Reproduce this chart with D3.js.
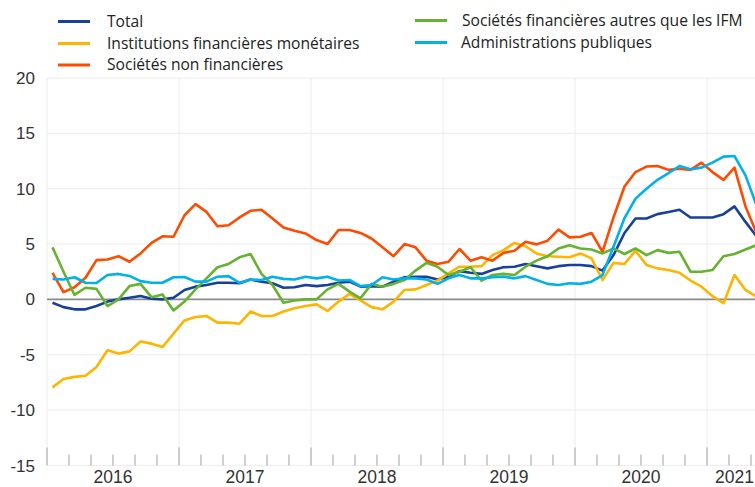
<!DOCTYPE html>
<html lang="fr">
<head>
    <meta charset="utf-8">
    <title>Prêts par secteur</title>
    <script src="https://d3js.org/d3.v7.min.js"></script>
    <style>
        body {
            margin: 0;
            background: #fff;
        }

        .grid line {
            stroke: #ececec;
            stroke-width: 1;
        }

        .tick-label {
            font-family: "Liberation Sans", Arial, sans-serif;
            fill: #333;
        }

        .legend text {
            font-family: "Open Sans", "Noto Sans", sans-serif;
            font-size: 15.6px;
            fill: #222;
        }

        .series {
            fill: none;
            stroke-width: 2.6;
            stroke-linejoin: round;
        }
    </style>
</head>
<body>
    <svg id="chart" width="755" height="487"></svg>

    <script>
        // monthly values, Jan 2016 .. May 2021
        const total = [
            -0.3, -0.7, -0.9, -0.9, -0.6, -0.2, 0.0, 0.15, 0.3, 0.05, 0.0, 0.15, 0.85,
            1.15, 1.3, 1.5, 1.5, 1.45, 1.8, 1.6, 1.45, 1.05, 1.1, 1.3, 1.2, 1.3,
            1.5, 1.6, 1.15, 1.2, 1.15, 1.6, 2.0, 2.05, 2.05, 1.8, 2.05, 2.55, 2.4,
            2.3, 2.65, 2.9, 2.95, 3.2, 3.0, 2.8, 3.0, 3.1, 3.1, 3.0, 2.6, 4.0,
            6.0, 7.3, 7.3, 7.7, 7.9, 8.1, 7.4, 7.4, 7.4, 7.7, 8.4, 7.0, 5.7
        ];
        const ifm = [
            -7.95, -7.2, -7.0, -6.9, -6.1, -4.6, -4.9, -4.7, -3.8, -4.0, -4.3, -3.1, -1.9,
            -1.6, -1.5, -2.1, -2.1, -2.2, -1.1, -1.5, -1.5, -1.1, -0.8, -0.6, -0.45, -1.05,
            -0.2, 0.5, -0.1, -0.7, -0.9, -0.2, 0.85, 0.9, 1.3, 1.7, 2.35, 2.95, 2.95,
            3.0, 4.0, 4.45, 5.1, 4.8, 4.15, 3.9, 3.85, 3.8, 4.15, 3.7, 1.75, 3.3,
            3.2, 4.4, 3.1, 2.8, 2.65, 2.4, 1.7, 1.15, 0.3, -0.35, 2.2, 0.85, 0.25
        ];
        const snf = [
            2.4, 0.65, 1.1, 1.95, 3.55, 3.6, 3.9, 3.4, 4.15, 5.1, 5.7, 5.66, 7.6,
            8.6, 7.9, 6.6, 6.7, 7.4, 8.0, 8.1, 7.3, 6.5, 6.2, 5.96, 5.36, 5.0,
            6.27, 6.27, 6.0, 5.5, 4.7, 3.9, 5.0, 4.7, 3.5, 3.2, 3.4, 4.55, 3.5,
            3.8, 3.5, 4.2, 4.4, 5.2, 4.97, 5.3, 6.3, 5.6, 5.66, 6.0, 4.3, 7.4,
            10.2, 11.5, 12.0, 12.05, 11.7, 11.8, 11.7, 12.35, 11.5, 10.8, 11.9, 8.4, 6.0
        ];
        const sfAutres = [
            4.7, 2.5, 0.4, 1.05, 0.95, -0.6, 0.0, 1.2, 1.4, 0.2, 0.45, -1.0, -0.2,
            0.9, 1.9, 2.9, 3.2, 3.8, 4.1, 2.3, 1.3, -0.3, -0.1, 0.0, 0.0, 0.9,
            1.4, 0.7, 0.1, 1.4, 1.15, 1.4, 1.75, 2.6, 3.3, 2.95, 2.2, 2.5, 2.9,
            1.7, 2.2, 2.3, 2.2, 2.95, 3.5, 3.9, 4.6, 4.9, 4.6, 4.5, 4.15, 4.6,
            4.1, 4.6, 4.0, 4.45, 4.2, 4.3, 2.5, 2.5, 2.65, 3.9, 4.1, 4.5, 4.9
        ];
        const apu = [
            1.85, 1.8, 2.0, 1.5, 1.48, 2.2, 2.3, 2.12, 1.65, 1.5, 1.5, 2.0, 2.02,
            1.6, 1.6, 2.05, 2.1, 1.5, 1.8, 1.75, 2.05, 1.85, 1.8, 2.05, 1.9, 2.05,
            1.7, 1.75, 1.2, 1.3, 2.0, 1.8, 1.9, 1.9, 1.8, 1.4, 1.9, 2.2, 1.9,
            1.9, 2.0, 2.05, 1.9, 2.1, 1.75, 1.4, 1.3, 1.45, 1.4, 1.6, 2.2, 4.75,
            7.35, 9.1, 10.0, 10.8, 11.4, 12.05, 11.75, 11.9, 12.35, 12.9, 12.95, 11.2, 8.5
        ];

        const years = ["2016", "2017", "2018", "2019", "2020", "2021"];
        const yTicks = [-15, -10, -5, 0, 5, 10, 15, 20];

        const series = [
            { name: "Total", values: total, color: "#17409b" },
            { name: "Institutions financières monétaires", values: ifm, color: "#ffb400" },
            { name: "Sociétés non financières", values: snf, color: "#ff4b00" },
            { name: "Sociétés financières autres que les IFM", values: sfAutres, color: "#65b32e" },
            { name: "Administrations publiques", values: apu, color: "#00b1ea" }
        ];

        const svg = d3.select("#chart");
        const plotLeft = 47, plotTop = 78, plotBottom = 465.4;
        const lastMonth = 65; // axis end, just after the last point

        // month index scale, 132px per year
        const x = d3.scaleLinear().domain([0, 72]).range([plotLeft, plotLeft + 6 * 132]);
        const y = d3.scaleLinear().domain([-15, 20]).range([plotBottom, plotTop]);

        const grid = svg.append("g").attr("class", "grid");
        grid.selectAll(".h")
            .data(yTicks)
            .join("line")
            .attr("class", "h")
            .attr("x1", plotLeft).attr("x2", 755)
            .attr("y1", d => y(d)).attr("y2", d => y(d));
        grid.selectAll(".v")
            .data(d3.range(0, 73, 12))
            .join("line")
            .attr("class", "v")
            .attr("x1", d => x(d)).attr("x2", d => x(d))
            .attr("y1", plotTop).attr("y2", plotBottom);

        // y labels
        svg.append("g").selectAll("text")
            .data(yTicks)
            .join("text")
            .attr("class", "tick-label")
            .attr("x", 35)
            .attr("y", d => y(d))
            .attr("dy", "0.36em")
            .attr("text-anchor", "end")
            .style("font-size", "17px")
            .text(d => d);

        // x ticks every 2 months, longer at year starts
        svg.append("g").selectAll("line")
            .data(d3.range(0, 73, 2))
            .join("line")
            .attr("x1", d => x(d)).attr("x2", d => x(d))
            .attr("y1", d => d % 12 === 0 ? plotBottom - 18 : plotBottom - 11)
            .attr("y2", plotBottom)
            .attr("stroke", "#b0b0b0")
            .attr("stroke-width", 1.2);

        // year labels centred on the part of each year that is on the axis
        svg.append("g").selectAll("text")
            .data(years)
            .join("text")
            .attr("class", "tick-label")
            .attr("x", (d, i) => x((i * 12 + Math.min(i * 12 + 12, lastMonth)) / 2))
            .attr("y", 483)
            .attr("text-anchor", "middle")
            .style("font-size", "17.5px")
            .text(d => d);

        // zero line
        svg.append("line")
            .attr("x1", plotLeft).attr("x2", 755)
            .attr("y1", y(0)).attr("y2", y(0))
            .attr("stroke", "#8a8a8a")
            .attr("stroke-width", 1.6);

        const line = d3.line()
            .x((d, i) => x(i + 0.5))
            .y(d => y(d));

        svg.append("g").selectAll("path")
            .data(series)
            .join("path")
            .attr("class", "series")
            .attr("stroke", d => d.color)
            .attr("d", d => line(d.values));

        // legend, two columns
        const legendPos = [
            { lx: 58, tx: 107, cy: 21.5 },
            { lx: 58, tx: 107, cy: 43.5 },
            { lx: 58, tx: 107, cy: 65 },
            { lx: 415, tx: 462, cy: 20.5 },
            { lx: 415, tx: 461, cy: 42.5 }
        ];

        const legend = svg.append("g").attr("class", "legend");
        const items = legend.selectAll("g")
            .data(series)
            .join("g");
        items.append("line")
            .attr("x1", (d, i) => legendPos[i].lx)
            .attr("x2", (d, i) => legendPos[i].lx + 32)
            .attr("y1", (d, i) => legendPos[i].cy)
            .attr("y2", (d, i) => legendPos[i].cy)
            .attr("stroke", d => d.color)
            .attr("stroke-width", 3);
        items.append("text")
            .attr("x", (d, i) => legendPos[i].tx)
            .attr("y", (d, i) => legendPos[i].cy + 5)
            .text(d => d.name);
    </script>
</body>
</html>
